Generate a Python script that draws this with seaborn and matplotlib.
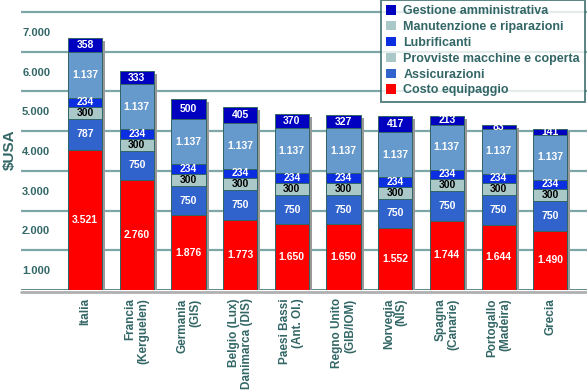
import matplotlib
matplotlib.use("Agg")
import matplotlib.pyplot as plt
import matplotlib.patheffects as pe
from matplotlib.patches import Patch
import seaborn as sns

sns.set_theme(style="white")
plt.rcParams["font.family"] = ["Liberation Sans", "DejaVu Sans"]

# ── Data ──────────────────────────────────────────────────────────────────────
COUNTRIES = [
    "Italia", "Francia\n(Kerguelen)", "Germania\n(GIS)",
    "Belgio (Lux)\nDanimarca (DIS)", "Paesi Bassi\n(Ant. Ol.)",
    "Regno Unito\n(GIB/IOM)", "Norvegia\n(NIS)", "Spagna\n(Canarie)",
    "Portogallo\n(Madeira)", "Grecia",
]
equipaggio = [3521, 2760, 1876, 1773, 1650, 1650, 1552, 1744, 1644, 1490]
assicurazioni = [787, 750, 750, 750, 750, 750, 750, 750, 750, 750]
provviste = [300, 300, 300, 300, 300, 300, 300, 300, 300, 300]
lubrificanti = [234, 234, 234, 234, 234, 234, 234, 234, 234, 234]
manutenzione = [1137, 1137, 1137, 1137, 1137, 1137, 1137, 1137, 1137, 1137]
gestione = [358, 333, 500, 405, 370, 327, 417, 213, 83, 141]

LAYERS = [equipaggio, assicurazioni, provviste, lubrificanti, manutenzione, gestione]
BAR_COLORS = ["#ff0000", "#3163cc", "#aac8c8", "#0a2ee0", "#6699cc", "#0000c0"]
LABEL_COLORS = ["white", "white", "black", "white", "white", "white"]

LEGEND_NAMES = ["Gestione amministrativa", "Manutenzione e riparazioni", "Lubrificanti",
                "Provviste macchine e coperta", "Assicurazioni", "Costo equipaggio"]
LEGEND_COLORS = ["#0000c0", "#aac8c8", "#0a2ee0", "#aac8c8", "#3163cc", "#ff0000"]

YTICKS = [1000, 2000, 3000, 4000, 5000, 6000, 7000]
YLABELS = ["1.000", "2.000", "3.000", "4.000", "5.000", "6.000", "7.000"]

TEXT = "#336666"

def fmt(v):
    return f"{v:,}".replace(",", ".")

# ── Plot ──────────────────────────────────────────────────────────────────────
fig = plt.figure(figsize=(5.87, 3.91), dpi=100)
ax = fig.add_axes([21 / 587, 101 / 391, 566 / 587, 290 / 391])

# cumulative tops, drawn from the top layer down so lower layers overlay
cum = []
run = [0] * len(COUNTRIES)
for layer in LAYERS:
    run = [a + b for a, b in zip(run, layer)]
    cum.append(run)

for i in range(len(LAYERS) - 1, -1, -1):
    sns.barplot(x=COUNTRIES, y=cum[i], color=BAR_COLORS[i], saturation=1,
                width=0.66, edgecolor="#336666", linewidth=0.7, ax=ax, zorder=3)

# drop shadow on the full-height bars
for p in ax.patches[:len(COUNTRIES)]:
    p.set_path_effects([pe.SimplePatchShadow(offset=(2.2, -2.2), shadow_rgbFace="#999999", alpha=1),
                        pe.Normal()])

# segment values
for i, layer in enumerate(LAYERS):
    for j, v in enumerate(layer):
        base = cum[i][j] - v
        ax.text(j, base + v / 2, fmt(v), ha="center", va="center", fontsize=7.5,
                fontweight="bold", color=LABEL_COLORS[i], zorder=5)

ax.set_xlim(-1.24, 9.71)
ax.set_ylim(0, 7300)
for s in ax.spines.values():
    s.set_visible(False)

ax.set_yticks(YTICKS, labels=[""] * len(YTICKS))
ax.set_yticks([t - 500 for t in YTICKS], labels=YLABELS, minor=True)
ax.tick_params(axis="y", which="both", length=0)
ax.tick_params(axis="y", which="minor", pad=-21, labelsize=8, labelcolor=TEXT)
for t in ax.get_yticklabels(minor=True):
    t.set_fontweight("bold")
ax.yaxis.grid(True, which="major", color="#7ea6a6", lw=1.6, zorder=0)
ax.set_axisbelow(True)
ax.axhline(-40, color="#b0b0b0", lw=2, zorder=1, clip_on=False)
ax.axhline(0, color="#4f7f7f", lw=2, zorder=2)

ax.set_xlabel("")
ax.tick_params(axis="x", length=0, pad=6, labelsize=8.5, labelcolor=TEXT)
for t in ax.get_xticklabels():
    t.set_rotation(90)
    t.set_fontweight("bold")
    t.set_multialignment("right")
    t.set_va("top")
    t.set_linespacing(1.1)

fig.text(10 / 587, 1 - 150 / 391, "$USA", rotation=90, ha="center", va="center",
         fontsize=11, fontweight="bold", color=TEXT)

handles = [Patch(facecolor=c, edgecolor="none") for c in LEGEND_COLORS]
leg = fig.legend(handles, LEGEND_NAMES, loc="upper right", bbox_to_anchor=(585 / 587, 1.0),
                 borderaxespad=0, fancybox=False, frameon=True, fontsize=9,
                 handlelength=0.8, handleheight=0.8, handletextpad=0.6,
                 labelspacing=0.3, borderpad=0.4)
leg.get_frame().set_edgecolor("#336666")
leg.get_frame().set_linewidth(1.4)
for t in leg.get_texts():
    t.set_color(TEXT)
    t.set_fontweight("bold")

plt.savefig("out.png", dpi=100)
